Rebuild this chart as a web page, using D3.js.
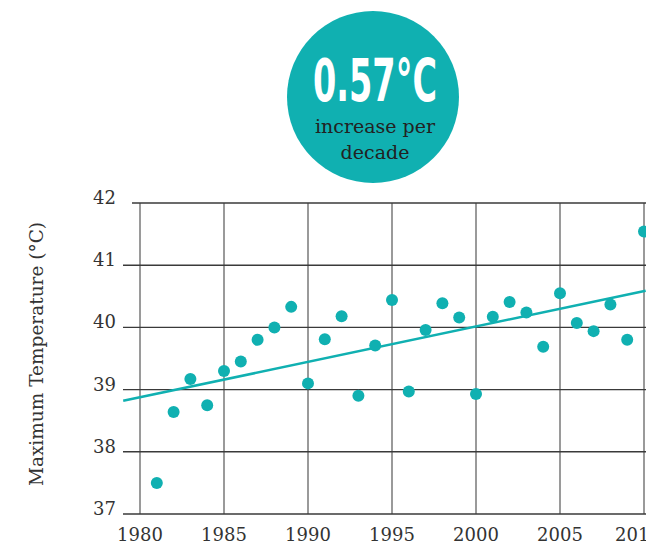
<!DOCTYPE html>
<html>
<head>
<meta charset="utf-8">
<script src="https://cdn.jsdelivr.net/npm/d3@7"></script>
<style>
  body { margin: 0; background: #fff; }
  text { font-family: "DejaVu Serif", Georgia, serif; }
</style>
</head>
<body>
<div id="chart-area"></div>
<script>
// data
let years = [1981, 1982, 1983, 1984, 1985, 1986, 1987, 1988, 1989, 1990,
    1991, 1992, 1993, 1994, 1995, 1996, 1997, 1998, 1999, 2000,
    2001, 2002, 2003, 2004, 2005, 2006, 2007, 2008, 2009, 2010];
let maxTemps = [37.5, 38.64, 39.17, 38.75, 39.3, 39.45, 39.8, 40.0, 40.33, 39.1,
    39.81, 40.18, 38.9, 39.71, 40.44, 38.97, 39.96, 40.39, 40.16, 38.93,
    40.17, 40.41, 40.24, 39.69, 40.55, 40.07, 39.94, 40.37, 39.8, 41.54];
let trendYears = [1979, 2010.1];
let trendValues = [38.82, 40.59];
let xTicks = [1980, 1985, 1990, 1995, 2000, 2005, 2010];
let yTicks = [37, 38, 39, 40, 41, 42];

let width = 646;
let height = 547;
let teal = "#10b0b1";

let svg = d3.select("#chart-area")
    .append("svg")
    .attr("width", width)
    .attr("height", height);

let x = d3.scaleLinear().domain([1980, 2010]).range([140, 644]);
let y = d3.scaleLinear().domain([37, 42]).range([514, 203]);

// vertical grid lines
svg.append("g")
    .attr("class", "x-grid")
    .selectAll("line")
    .data(xTicks)
    .enter()
    .append("line")
    .attr("x1", d => x(d))
    .attr("x2", d => x(d))
    .attr("y1", y(42))
    .attr("y2", y(37))
    .attr("stroke", "#9a9a9a")
    .attr("stroke-width", 2);

// horizontal grid lines
svg.append("g")
    .attr("class", "y-grid")
    .selectAll("line")
    .data(yTicks)
    .enter()
    .append("line")
    .attr("x1", d => d === 42 ? 132 : 123)
    .attr("x2", width)
    .attr("y1", d => y(d))
    .attr("y2", d => y(d))
    .attr("stroke", "#3a3a3a")
    .attr("stroke-width", 1.4);

// y labels
svg.append("g")
    .attr("class", "y-labels")
    .selectAll("text")
    .data(yTicks)
    .enter()
    .append("text")
    .attr("x", 116)
    .attr("y", d => y(d) + 1)
    .attr("text-anchor", "end")
    .attr("font-size", 18)
    .attr("fill", "#333")
    .text(d => d);

// x labels (last one sits against the edge, nudge it in a bit)
svg.append("g")
    .attr("class", "x-labels")
    .selectAll("text")
    .data(xTicks)
    .enter()
    .append("text")
    .attr("x", d => x(d) - (d === 2010 ? 6 : 0))
    .attr("y", 541)
    .attr("text-anchor", "middle")
    .attr("font-size", 18)
    .attr("fill", "#333")
    .text(d => d);

// y axis title
svg.append("text")
    .attr("transform", "translate(43,354) rotate(-90)")
    .attr("text-anchor", "middle")
    .attr("font-size", 18.5)
    .attr("fill", "#333")
    .text("Maximum Temperature (°C)");

// trend line
let line = d3.line()
    .x(d => x(d[0]))
    .y(d => y(d[1]));

svg.append("path")
    .datum(d3.zip(trendYears, trendValues))
    .attr("d", line)
    .attr("fill", "none")
    .attr("stroke", teal)
    .attr("stroke-width", 2.6);

// points
svg.append("g")
    .attr("class", "dots")
    .selectAll("circle")
    .data(d3.zip(years, maxTemps))
    .enter()
    .append("circle")
    .attr("cx", d => x(d[0]))
    .attr("cy", d => y(d[1]))
    .attr("r", 6)
    .attr("fill", teal);

// badge
let badge = svg.append("g").attr("class", "badge");
badge.append("circle")
    .attr("cx", 373)
    .attr("cy", 97)
    .attr("r", 86)
    .attr("fill", teal);

badge.append("text")
    .attr("x", 375)
    .attr("y", 101)
    .attr("text-anchor", "middle")
    .attr("font-size", 58)
    .attr("font-weight", "bold")
    .attr("textLength", 124)
    .attr("lengthAdjust", "spacingAndGlyphs")
    .style("font-family", "'DejaVu Sans Condensed', Roboto, sans-serif")
    .attr("fill", "#fff")
    .text("0.57°C");

badge.append("text")
    .attr("x", 375)
    .attr("y", 133)
    .attr("text-anchor", "middle")
    .attr("font-size", 19)
    .attr("fill", "#222")
    .text("increase per");

badge.append("text")
    .attr("x", 375)
    .attr("y", 159)
    .attr("text-anchor", "middle")
    .attr("font-size", 19)
    .attr("fill", "#222")
    .text("decade");
</script>
</body>
</html>
